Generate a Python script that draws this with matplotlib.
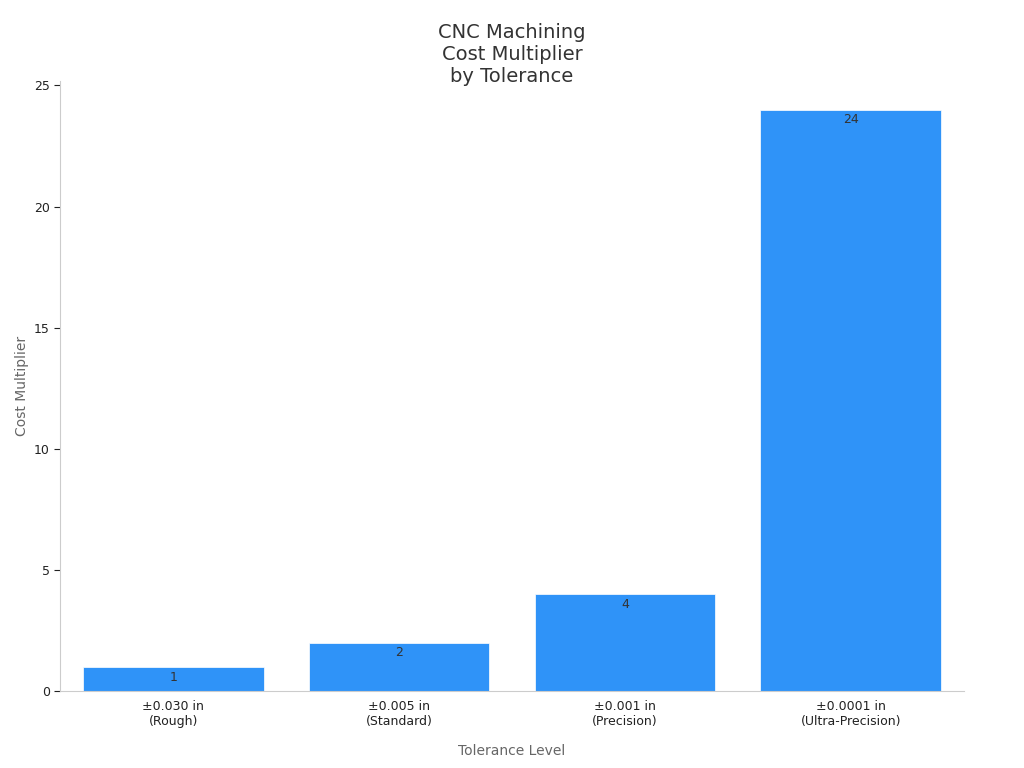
import matplotlib
matplotlib.use("Agg")
import matplotlib.pyplot as plt

categories = ["±0.030 in\n(Rough)", "±0.005 in\n(Standard)", "±0.001 in\n(Precision)", "±0.0001 in\n(Ultra-Precision)"]
values = [1, 2, 4, 24]

plt.rcParams['font.family'] = ['DejaVu Sans']
fig = plt.figure(figsize=(10.24, 7.68), dpi=100)
ax = fig.add_axes([0.059, 0.1, 0.882, 0.795])
bars = ax.bar(range(len(values)), values, width=0.8, color="#2f93f8", edgecolor="#ffffff", linewidth=0.5)
for i, v in enumerate(values):
    ax.text(i, v - 0.15, str(v), ha="center", va="top", fontsize=9, color="#333333")
ax.set_xticks(range(len(values)))
ax.set_xticklabels(categories, fontsize=9, color="#222222")
ax.set_xlim(-0.5, 3.5)
ax.set_ylim(0, 25.2)
ax.set_yticks([0, 5, 10, 15, 20, 25])
ax.tick_params(axis='y', labelsize=9, colors="#222222", length=4)
ax.tick_params(axis='x', length=0, pad=6)
for s in ["top", "right"]:
    ax.spines[s].set_visible(False)
for s in ["left", "bottom"]:
    ax.spines[s].set_color("#cccccc")
ax.set_xlabel("Tolerance Level", fontsize=10, color="#666666", labelpad=12)
ax.set_ylabel("Cost Multiplier", fontsize=10, color="#666666")
fig.text(0.5, 0.97, "CNC Machining\nCost Multiplier\nby Tolerance", ha="center", va="top", fontsize=14, color="#333333", linespacing=1.2)
fig.savefig("out.png")
